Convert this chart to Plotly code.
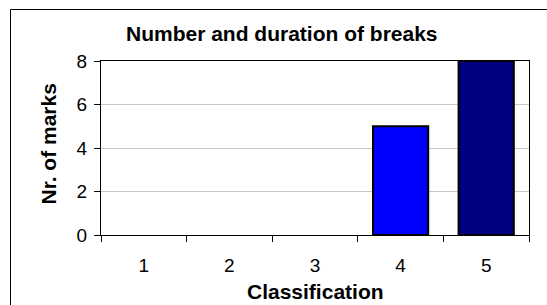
import plotly.graph_objects as go

categories = ["1", "2", "3", "4", "5"]
values = [0, 0, 0, 5, 8]
bar_colors = ["#0000FF", "#0000FF", "#0000FF", "#0000FF", "#000080"]
y_ticks = [0, 2, 4, 6, 8]
title_text = "Number and duration of breaks"
x_title = "Classification"
y_title = "Nr. of marks"

FONT = "Liberation Sans, Arial, sans-serif"
W, H = 547, 305
L, R, T, B = 101, 18, 61, 70
PW, PH = W - L - R, H - T - B


def px_x(px):
    return (px - L) / PW


def px_y(py):
    return (H - B - py) / PH


fig = go.Figure()
fig.add_trace(go.Bar(
    x=categories, y=values, width=0.645,
    marker=dict(color=bar_colors,
                line=dict(color="black", width=[2 if v else 0 for v in values])),
    showlegend=False,
))

fig.update_layout(
    width=W, height=H,
    margin=dict(l=L, r=R, t=T, b=B, pad=0),
    paper_bgcolor="white", plot_bgcolor="white",
    font=dict(family=FONT, color="black", size=19),
    xaxis=dict(
        type="category", range=[-0.5, 4.5], tickson="boundaries",
        ticks="outside", ticklen=6, tickcolor="black", tickwidth=1,
        showline=True, linecolor="black", linewidth=1, mirror=True,
        showgrid=False, tickfont=dict(size=19), ticklabelstandoff=13,
    ),
    yaxis=dict(
        range=[0, 8], tickvals=y_ticks,
        ticks="outside", ticklen=6, tickcolor="black", tickwidth=1,
        showline=True, linecolor="black", linewidth=1, mirror=True,
        showgrid=True, gridcolor="#c8c8c8", gridwidth=1,
        zeroline=False, tickfont=dict(size=19), ticklabelstandoff=3,
    ),
    annotations=[
        dict(text="<b>" + title_text + "</b>", xref="paper", yref="paper",
             x=px_x(281.5), y=px_y(33.5), xanchor="center", yanchor="middle",
             showarrow=False, font=dict(size=21, family=FONT, color="black")),
        dict(text="<b>" + x_title + "</b>", xref="paper", yref="paper",
             x=px_x(315), y=px_y(291), xanchor="center", yanchor="middle",
             showarrow=False, font=dict(size=21, family=FONT, color="black")),
        dict(text="<b>" + y_title + "</b>", xref="paper", yref="paper",
             x=px_x(48), y=px_y(144.5), xanchor="center", yanchor="middle",
             textangle=-90,
             showarrow=False, font=dict(size=21, family=FONT, color="black")),
    ],
    shapes=[
        dict(type="rect", xref="paper", yref="paper",
             x0=px_x(10.5), x1=px_x(560), y0=px_y(320), y1=px_y(9.5),
             line=dict(color="black", width=1), fillcolor="rgba(0,0,0,0)",
             layer="below"),
    ],
)

fig.write_html(
    "out.html",
    config={"displayModeBar": False},
    post_script="document.body.style.margin='0';document.body.style.overflow='hidden';",
)
